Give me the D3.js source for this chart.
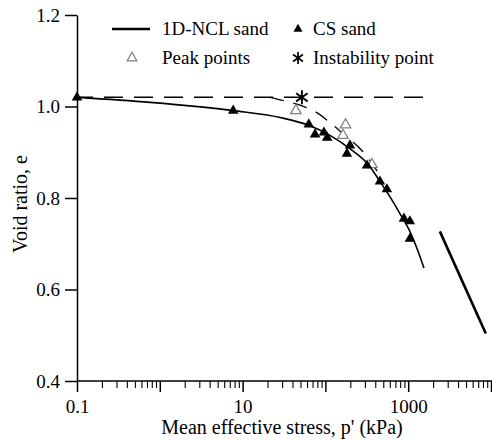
<!DOCTYPE html>
<html>
<head>
<meta charset="utf-8">
<script src="https://cdn.jsdelivr.net/npm/d3@7"></script>
<style>
  html, body { margin: 0; padding: 0; background: #fff; }
  svg { display: block; }
  svg text { font-family: "Liberation Serif", "DejaVu Serif", "Noto Serif", Times, serif; fill: #000; }
</style>
</head>
<body>
<svg id="chart" width="492" height="440"></svg>
<script>
// Axis tick values and labels
const yTicks = [0.4, 0.6, 0.8, 1.0, 1.2];
const xDecades = [0.1, 1, 10, 100, 1000, 10000];
const xTickLabels = [0.1, 10, 1000];

// Critical-state (CS) sand points: [p' (kPa), e]
const csSand = [
  [0.1, 1.02], [7.7, 0.991], [63, 0.961], [75, 0.939], [96, 0.943], [105, 0.932],
  [198, 0.915], [182, 0.897], [318, 0.871], [456, 0.836], [553, 0.819],
  [888, 0.755], [1047, 0.749], [1047, 0.711]
];

// Peak points (open triangles)
const peakPoints = [[44, 0.991], [175, 0.960], [163, 0.937], [365, 0.873]];

// Instability point
const instability = [[52, 1.02]];

// Fitted critical state curve
const csCurve = [
  [0.1, 1.02], [0.767, 1.009], [7.7, 0.991], [28.4, 0.976], [65, 0.958],
  [113.6, 0.937], [197, 0.908], [344, 0.869], [456, 0.836], [601, 0.803],
  [794, 0.766], [1047, 0.727], [1274, 0.690], [1549, 0.647]
];

// One-dimensional normal compression line
const ncl = [[2411, 0.727], [8650, 0.504]];

// Initial void ratio (horizontal dashed line)
const initialLine = [[0.1, 1.02], [1830, 1.02]];

// Dashed path from the instability line to the critical state
const instabilityPath = [
  [21.5, 1.02], [32.6, 1.012], [49.4, 1.003], [74.9, 0.989], [113.6, 0.965],
  [172, 0.937], [284, 0.901], [431, 0.856]
];

const FONT = "'Liberation Serif', 'DejaVu Serif', 'Noto Serif', Times, serif";
const svg = d3.select("#chart");
const x = d3.scaleLog().domain([0.1, 10000]).range([77, 491]);
const y = d3.scaleLinear().domain([0.4, 1.2]).range([381, 15]);
const tickFont = 19;
const titleFont = 20;
const legendFont = 19;

// Y axis
const yAxis = svg.append("g").attr("transform", `translate(${x(0.1)},0)`)
  .call(d3.axisLeft(y).tickValues(yTicks).tickFormat(d3.format(".1f"))
    .tickSize(12).tickPadding(5).tickSizeOuter(0));
yAxis.attr("font-family", FONT).attr("font-size", tickFont);
yAxis.selectAll("text").attr("fill", "#000");
yAxis.selectAll("path,line").attr("stroke", "#000").attr("stroke-width", 1.5);

// X axis: minor ticks
const minorTicks = [];
xDecades.slice(0, -1).forEach(d => { for (let k = 2; k <= 9; k++) minorTicks.push(d * k); });
const xMinor = svg.append("g").attr("transform", `translate(0,${y(0.4)})`)
  .call(d3.axisBottom(x).tickValues(minorTicks).tickFormat("").tickSize(7).tickSizeOuter(0));
xMinor.select("path").remove();
xMinor.selectAll("line").attr("stroke", "#000").attr("stroke-width", 1.1);

// X axis: decade ticks
const xAxis = svg.append("g").attr("transform", `translate(0,${y(0.4)})`)
  .call(d3.axisBottom(x).tickValues(xDecades)
    .tickFormat(d => xTickLabels.includes(d) ? String(d) : "")
    .tickSize(11).tickPadding(8).tickSizeOuter(0));
xAxis.attr("font-family", FONT).attr("font-size", tickFont);
xAxis.select("path").attr("d", `M${x(0.1)},0H492`);
xAxis.selectAll("text").attr("fill", "#000");
xAxis.selectAll("path,line").attr("stroke", "#000").attr("stroke-width", 1.5);

// Axis titles
svg.append("text").attr("x", 282).attr("y", 434).attr("text-anchor", "middle")
  .attr("font-family", FONT).attr("font-size", titleFont).text("Mean effective stress, p' (kPa)");
svg.append("text").attr("transform", "translate(27,204) rotate(-90)")
  .attr("text-anchor", "middle").attr("font-family", FONT).attr("font-size", titleFont)
  .text("Void ratio, e");

const line = d3.line().x(d => x(d[0])).y(d => y(d[1]));
const smooth = d3.line().x(d => x(d[0])).y(d => y(d[1])).curve(d3.curveMonotoneX);

// Horizontal dashed line
svg.append("path").datum(initialLine).attr("d", line)
  .attr("fill", "none").attr("stroke", "#000").attr("stroke-width", 1.5)
  .attr("stroke-dasharray", "19,11").attr("stroke-dashoffset", 3);

// Dashed path
svg.append("path").datum(instabilityPath).attr("d", smooth)
  .attr("fill", "none").attr("stroke", "#000").attr("stroke-width", 1.3)
  .attr("stroke-dasharray", "14,10");

// Critical state curve
svg.append("path").datum(csCurve).attr("d", smooth)
  .attr("fill", "none").attr("stroke", "#000").attr("stroke-width", 1.6);

// NCL
svg.append("path").datum(ncl).attr("d", line)
  .attr("fill", "none").attr("stroke", "#000").attr("stroke-width", 2.6);

const tri = d3.symbol().type(d3.symbolTriangle).size(48);

// Peak points
svg.append("g").selectAll("path").data(peakPoints).join("path")
  .attr("transform", d => `translate(${x(d[0])},${y(d[1])})`)
  .attr("d", tri).attr("fill", "#fff").attr("stroke", "#808080").attr("stroke-width", 1.3);

// CS sand points
svg.append("g").selectAll("path").data(csSand).join("path")
  .attr("transform", d => `translate(${x(d[0])},${y(d[1])})`)
  .attr("d", tri).attr("fill", "#000");

// Asterisk marker
function asterisk(r) {
  const a = [90, 35, 145].map(t => t * Math.PI / 180);
  return a.map(t => `M${-r * Math.cos(t)},${-r * Math.sin(t)}L${r * Math.cos(t)},${r * Math.sin(t)}`).join("");
}
svg.append("g").selectAll("path").data(instability).join("path")
  .attr("transform", d => `translate(${x(d[0])},${y(d[1])})`)
  .attr("d", asterisk(7)).attr("fill", "none").attr("stroke", "#000").attr("stroke-width", 1.9);

// Legend
const legend = svg.append("g").attr("font-family", FONT).attr("font-size", legendFont);
legend.append("line").attr("x1", 112).attr("x2", 150).attr("y1", 29).attr("y2", 29)
  .attr("stroke", "#000").attr("stroke-width", 2.6);
legend.append("text").attr("x", 162).attr("y", 35).text("1D-NCL sand");
legend.append("path").attr("transform", "translate(298,29)")
  .attr("d", d3.symbol().type(d3.symbolTriangle).size(36)).attr("fill", "#000");
legend.append("text").attr("x", 313).attr("y", 35).text("CS sand");
legend.append("path").attr("transform", "translate(132,58)")
  .attr("d", d3.symbol().type(d3.symbolTriangle).size(42))
  .attr("fill", "#fff").attr("stroke", "#808080").attr("stroke-width", 1.2);
legend.append("text").attr("x", 162).attr("y", 64).text("Peak points");
legend.append("path").attr("transform", "translate(298,58)")
  .attr("d", asterisk(6)).attr("fill", "none").attr("stroke", "#000").attr("stroke-width", 1.7);
legend.append("text").attr("x", 313).attr("y", 64).text("Instability point");
</script>
</body>
</html>
